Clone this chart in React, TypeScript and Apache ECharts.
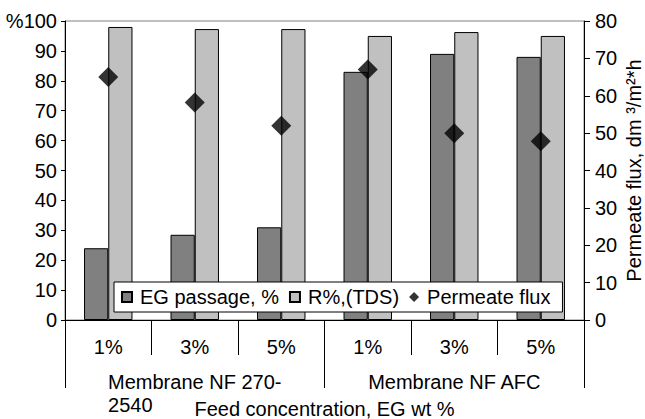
import React, { useEffect, useRef } from "react";
import * as echarts from "echarts";

const categories = ["1%", "3%", "5%", "1%", "3%", "5%"];
const groups = ["Membrane NF 270-2540", "Membrane NF AFC"];
const egPassage = [24, 28.5, 31, 83, 89, 88];
const rTDS = [98, 97.3, 97.3, 95, 96.3, 95];
const permeateFlux = [65, 58.2, 52, 67, 50, 47.8];

const FONT = "'Liberation Sans', Arial, sans-serif";

export default function App() {
  const ref = useRef<HTMLDivElement>(null);
  useEffect(() => {
    document.body.style.margin = "0";
    const chart = echarts.init(ref.current!, null, { renderer: "svg" });
    const black = "#000";
    chart.setOption({
      animation: false,
      backgroundColor: "#fff",
      textStyle: { fontFamily: FONT, fontSize: 20, color: black },
      grid: {
        left: 65,
        right: 61,
        top: 21,
        bottom: 99,
        containLabel: false,
        outerBoundsMode: "none",
        show: true,
        borderColor: "#808080",
        borderWidth: 1,
      },
      legend: {
        left: 114,
        top: 282,
        padding: [5, 12, 5, 7],
        backgroundColor: "#fff",
        borderColor: black,
        borderWidth: 1,
        borderRadius: 0,
        itemWidth: 10,
        itemHeight: 10,
        itemGap: 10,
        z: 10,
        textStyle: { fontFamily: FONT, fontSize: 20, color: black, padding: [0, 0, 0, 3] },
        data: [
          { name: "EG passage, %", icon: "rect" },
          { name: "R%,(TDS)", icon: "rect" },
          { name: "Permeate flux", icon: "diamond" },
        ],
      },
      xAxis: [
        {
          type: "category",
          data: categories,
          position: "bottom",
          axisLine: { show: true, lineStyle: { color: black, width: 1 } },
          axisTick: { show: true, length: 35, lineStyle: { color: black } },
          axisLabel: {
            fontFamily: FONT,
            fontSize: 20,
            color: black,
            margin: 17,
            interval: 0,
          },
          name: "Feed concentration, EG wt %",
          nameLocation: "middle",
          nameGap: 79,
          nameMoveOverlap: false,
          nameTextStyle: { fontFamily: FONT, fontSize: 20, color: black },
        },
        {
          type: "category",
          data: groups,
          position: "bottom",
          axisLine: { show: false },
          axisTick: { show: true, length: 68, lineStyle: { color: black } },
          axisLabel: {
            interval: 0,
            margin: 50,
            formatter: (v: string) =>
              v === "Membrane NF 270-2540"
                ? "{a|Membrane NF 270-}\n{b|2540}"
                : "{a|" + v + "}",
            rich: {
              a: { fontFamily: FONT, fontSize: 20, color: black, lineHeight: 23 },
              b: {
                fontFamily: FONT,
                fontSize: 20,
                color: black,
                lineHeight: 23,
                width: 173,
                align: "left",
              },
            },
          },
        },
      ],
      yAxis: [
        {
          type: "value",
          min: 0,
          max: 100,
          interval: 10,
          position: "left",
          splitLine: { show: false },
          axisLine: { show: true, lineStyle: { color: black } },
          axisTick: { show: true, length: 4, lineStyle: { color: black } },
          axisLabel: {
            fontFamily: FONT,
            fontSize: 20,
            color: black,
            margin: 8,
            formatter: (v: number) => (v === 100 ? "%100" : String(v)),
          },
        },
        {
          type: "value",
          min: 0,
          max: 80,
          interval: 10,
          position: "right",
          splitLine: { show: false },
          axisLine: { show: true, lineStyle: { color: black } },
          axisTick: { show: true, length: 6, lineStyle: { color: black } },
          axisLabel: { fontFamily: FONT, fontSize: 20, color: black, margin: 11 },
          name: "Permeate flux, dm \u00B3/m\u00B2*h",
          nameLocation: "middle",
          nameRotate: 90,
          nameGap: 40,
          nameMoveOverlap: false,
          nameTextStyle: { fontFamily: FONT, fontSize: 20, color: black },
        },
      ],
      series: [
        {
          name: "EG passage, %",
          type: "bar",
          xAxisIndex: 0,
          yAxisIndex: 0,
          data: egPassage,
          barWidth: "28%",
          barGap: "0%",
          itemStyle: { color: "#808080", borderColor: black, borderWidth: 1 },
        },
        {
          name: "R%,(TDS)",
          type: "bar",
          xAxisIndex: 0,
          yAxisIndex: 0,
          data: rTDS,
          barWidth: "28%",
          barGap: "0%",
          itemStyle: { color: "#c0c0c0", borderColor: black, borderWidth: 1 },
        },
        {
          name: "Permeate flux",
          type: "scatter",
          xAxisIndex: 0,
          yAxisIndex: 1,
          data: permeateFlux,
          symbol: "diamond",
          symbolSize: [20, 20],
          z: 5,
          itemStyle: { color: black },
        },
      ],
    });
    return () => chart.dispose();
  }, []);
  return <div ref={ref} style={{ width: 645, height: 419 }} />;
}
